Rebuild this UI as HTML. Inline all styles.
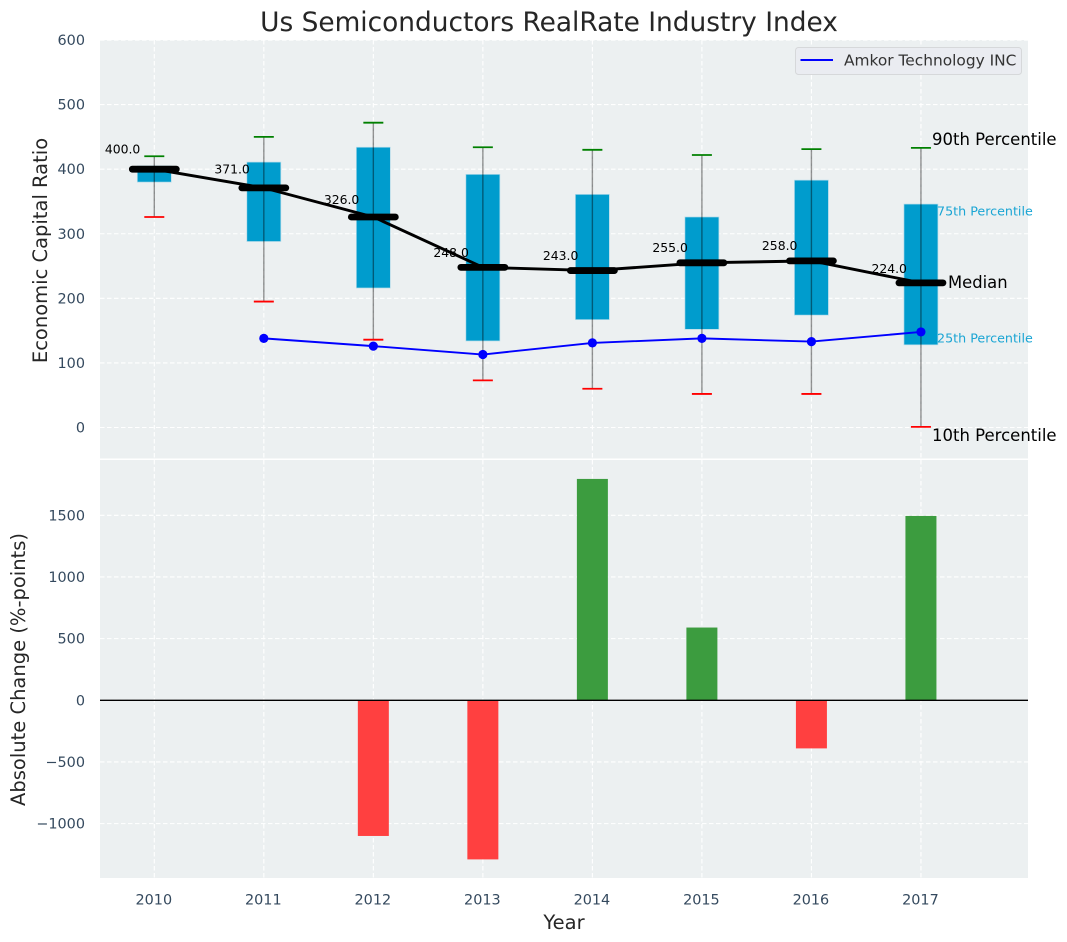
<!DOCTYPE html>
<html lang="en">
<head>
<meta charset="utf-8">
<title>Us Semiconductors RealRate Industry Index</title>
<style>
html,body{margin:0;padding:0;background:#fff;width:1067px;height:942px;overflow:hidden}
svg{display:block;font-family:"DejaVu Sans","Liberation Sans",sans-serif}
</style>
</head>
<body>
<svg id="chart" xmlns="http://www.w3.org/2000/svg" width="1067" height="942" viewBox="0 0 1067 942">
  <rect x="100" y="40" width="928" height="418.5" fill="#ecf0f1"/>
  <rect x="100" y="460" width="928" height="418" fill="#ecf0f1"/>
  <g id="gridLayer"></g>
  <g id="boxLayer"></g>
  <g id="barLayer"></g>
  <g id="lineLayer"></g>
  <g id="labelLayer"></g>
  <text x="549" y="31" text-anchor="middle" font-size="26.4" fill="#262626">Us Semiconductors RealRate Industry Index</text>
  <text transform="translate(47,250.5) rotate(-90)" text-anchor="middle" font-size="19.5" fill="#262626">Economic Capital Ratio</text>
  <text transform="translate(25,669.5) rotate(-90)" text-anchor="middle" font-size="19.5" fill="#262626">Absolute Change (%-points)</text>
  <text x="564" y="929" text-anchor="middle" font-size="19.5" fill="#262626">Year</text>
  <g>
    <rect x="795.5" y="47.5" width="226" height="27" rx="3" fill="#eaecf1" stroke="#d6d8da" stroke-width="1"/>
    <line x1="800.5" x2="833" y1="60" y2="60" stroke="#0000ff" stroke-width="2"/>
    <text x="844" y="65.5" font-size="15.4" fill="#333333">Amkor Technology INC</text>
  </g>
  <g id="annotationLayer">
    <text x="932" y="145" font-size="16.5" fill="#000">90th Percentile</text>
    <text x="937" y="215.5" font-size="12.7" fill="#1aa5d4">75th Percentile</text>
    <text x="948" y="288" font-size="16.4" fill="#000">Median</text>
    <text x="937" y="342.5" font-size="12.7" fill="#1aa5d4">25th Percentile</text>
    <text x="932" y="441" font-size="16.5" fill="#000">10th Percentile</text>
  </g>
</svg>
<script>
const years = [2010, 2011, 2012, 2013, 2014, 2015, 2016, 2017];
const p90 = [420, 450, 472, 434, 430, 422, 431, 433];
const p75 = [405, 411, 434, 392, 361, 326, 383, 346];
const medians = [400, 371, 326, 248, 243, 255, 258, 224];
const p25 = [380, 288, 216, 134, 167, 152, 174, 128];
const p10 = [326, 195, 136, 73, 60, 52, 52, 1];
const amkor = [null, 138, 126, 113, 131, 138, 133, 148];
const changes = [null, null, -1100, -1290, 1795, 590, -390, 1495];
const topTicks = [0, 100, 200, 300, 400, 500, 600];
const bottomTicks = [-1000, -500, 0, 500, 1000, 1500];

const NS = 'http://www.w3.org/2000/svg';
function xAxis(year) { return 154.3 + (year - 2010) * 109.52; }
function yTop(v) { return 427.5 - v * 0.6458; }
function yBottom(v) { return 700.3 - v * 0.12333; }
function make(tag, attrs, parent) {
  const el = document.createElementNS(NS, tag);
  for (const k in attrs) el.setAttribute(k, attrs[k]);
  parent.appendChild(el);
  return el;
}
const gridLayer = document.getElementById('gridLayer');
const boxLayer = document.getElementById('boxLayer');
const barLayer = document.getElementById('barLayer');
const lineLayer = document.getElementById('lineLayer');
const labelLayer = document.getElementById('labelLayer');
const gridStyle = { stroke: '#ffffff', 'stroke-width': 1.1, 'stroke-dasharray': '4.5 2.5' };

years.forEach(function (yr) {
  const x = xAxis(yr);
  [[40, 458], [460, 878]].forEach(function (r) {
    const g = make('line', Object.assign({ x1: x, x2: x, y1: r[0], y2: r[1] }, gridStyle), gridLayer);
    
    
  });
  const t = make('text', { x: x - 0.5, y: 904.5, 'text-anchor': 'middle', 'font-size': 14.4, fill: '#34495e' }, labelLayer);
  
  
  t.textContent = yr;
});
topTicks.forEach(function (v) {
  const y = yTop(v);
  const g = make('line', Object.assign({ x1: 100, x2: 1028, y1: y, y2: y }, gridStyle), gridLayer);
  
  
  const t = make('text', { x: 85, y: y + 5, 'text-anchor': 'end', 'font-size': 14.4, fill: '#34495e' }, labelLayer);
  
  
  t.textContent = v;
});
bottomTicks.forEach(function (v) {
  const y = yBottom(v);
  const g = make('line', Object.assign({ x1: 100, x2: 1028, y1: y, y2: y }, gridStyle), gridLayer);
  
  
  const t = make('text', { x: 85, y: y + 5, 'text-anchor': 'end', 'font-size': 14.4, fill: '#34495e' }, labelLayer);
  
  
  t.textContent = String(v).replace('-', '\u2212');
});

const boxHalf = 17;
const capHalf = 10;
years.forEach(function (yr, i) {
  const x = xAxis(yr);
  const box = make('rect', { x: x - boxHalf, y: yTop(p75[i]), width: boxHalf * 2, height: yTop(p25[i]) - yTop(p75[i]), fill: '#009ccd', stroke: '#b5dcea', 'stroke-width': 0.7 }, boxLayer);
  
  
  const w = make('line', { x1: x, x2: x, y1: yTop(p90[i]), y2: yTop(p10[i]), stroke: '#000', 'stroke-opacity': 0.42, 'stroke-width': 1.4 }, boxLayer);
  
  
  const hi = make('line', { x1: x - capHalf, x2: x + capHalf, y1: yTop(p90[i]), y2: yTop(p90[i]), stroke: '#008000', 'stroke-width': 1.8 }, boxLayer);
  
  
  const lo = make('line', { x1: x - capHalf, x2: x + capHalf, y1: yTop(p10[i]), y2: yTop(p10[i]), stroke: '#ff0000', 'stroke-width': 1.8 }, boxLayer);
  
  
});

changes.forEach(function (v, i) {
  if (v === null) return;
  const x = xAxis(years[i]);
  const y0 = yBottom(0);
  const y1 = yBottom(v);
  const bar = make('rect', { x: x - 15.5, y: Math.min(y0, y1), width: 31, height: Math.abs(y1 - y0), fill: v > 0 ? '#3c9c3f' : '#ff4040' }, barLayer);
  
  
});
const zero = make('line', { x1: 100, x2: 1028, y1: yBottom(0), y2: yBottom(0), stroke: '#000', 'stroke-width': 1.3 }, barLayer);



const medianPts = years.map(function (yr, i) { return xAxis(yr) + ',' + yTop(medians[i]); }).join(' ');
const medianLine = make('polyline', { points: medianPts, fill: 'none', stroke: '#000', 'stroke-width': 2.9 }, lineLayer);


years.forEach(function (yr, i) {
  const x = xAxis(yr);
  const y = yTop(medians[i]);
  const m = make('line', { x1: x - 22, x2: x + 22, y1: y, y2: y, stroke: '#000', 'stroke-width': 6.8, 'stroke-linecap': 'round' }, lineLayer);
  
  
  const t = make('text', { x: x - 14, y: y - (7 + medians[i] * 0.0325) + 4.5, 'text-anchor': 'end', 'font-size': 12.4, fill: '#000' }, lineLayer);
  
  
  t.textContent = medians[i].toFixed(1);
});

const amkorPts = [];
years.forEach(function (yr, i) {
  if (amkor[i] !== null) amkorPts.push(xAxis(yr) + ',' + yTop(amkor[i]));
});
const amkorLine = make('polyline', { points: amkorPts.join(' '), fill: 'none', stroke: '#0000ff', 'stroke-width': 1.9 }, lineLayer);


years.forEach(function (yr, i) {
  if (amkor[i] === null) return;
  const c = make('circle', { cx: xAxis(yr), cy: yTop(amkor[i]), r: 4.6, fill: '#0000ff' }, lineLayer);
  
  
});
</script>
</body>
</html>
